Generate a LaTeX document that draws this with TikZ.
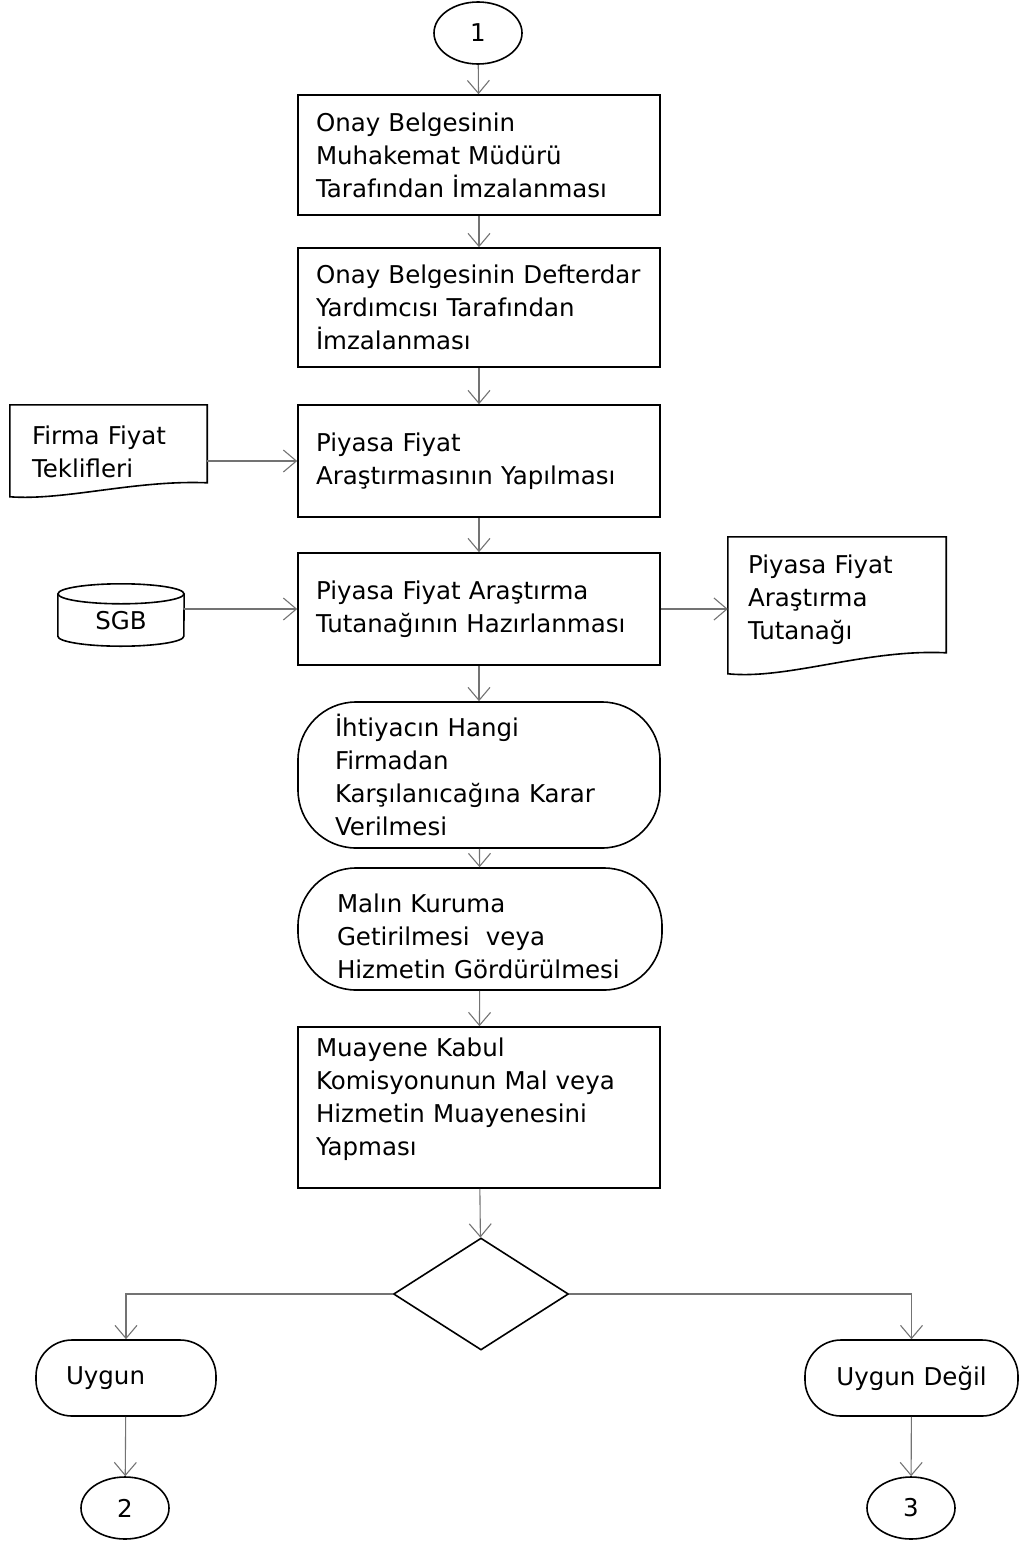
\documentclass[tikz,border=0pt]{standalone}
\usepackage{fontspec}
\setmainfont{DejaVu Sans}
\usetikzlibrary{arrows.meta,shapes.geometric,calc}
\newcommand{\fs}{\fontsize{24.5}{33}\selectfont\hyphenpenalty=10000\exhyphenpenalty=10000}
\begin{document}
\begin{tikzpicture}[x=1pt,y=-1pt,
  outl/.style={draw=black, line width=1.6pt},
  proc/.style={outl, rectangle, minimum width=362pt, text width=326pt, align=left, inner sep=0pt, font=\fs},
  term/.style={proc, rounded corners=58pt},
  docn/.style={rectangle, inner sep=0pt, align=left, font=\fs},
  circ/.style={outl, ellipse, minimum width=88pt, minimum height=62pt, inner sep=0pt, font=\fs},
  conn/.style={draw=black!55, line width=1.1pt, -{Straight Barb[length=13pt,width=22pt]}}
]
\useasboundingbox (0,0) rectangle (1021,1541);

\node[circ] (c1) at (478,33) {1};
\node[proc, minimum height=120pt] (b1) at (479,155) {Onay Belgesinin\\Muhakemat Müdürü\\Tarafından İmzalanması};
\node[proc, minimum height=119pt] (b2) at (479,307.5) {Onay Belgesinin Defterdar\\Yardımcısı Tarafından\\İmzalanması};
\node[proc, minimum height=112pt] (b3) at (479,461) {Piyasa Fiyat\\Araştırmasının Yapılması};
\node[proc, minimum height=112pt] (b4) at (479,609) {Piyasa Fiyat Araştırma\\Tutanağının Hazırlanması};
\node[term, minimum height=146pt, text width=288pt] (s1) at (479,775) {İhtiyacın Hangi\\Firmadan\\Karşılanıcağına Karar\\Verilmesi};
\node[term, minimum width=364pt, minimum height=122pt, text width=286pt, text height=34pt] (s2) at (480,929) {Malın Kuruma\\Getirilmesi\ \ veya\\Hizmetin Gördürülmesi};
\node[proc, minimum height=161pt, text depth=120pt] (b5) at (479,1107.5) {Muayene Kabul\\Komisyonunun Mal veya\\Hizmetin Muayenesini\\Yapması};
\node[outl, diamond, minimum width=175pt, minimum height=112pt, inner sep=0pt] (d) at (481,1294) {};
\node[term, rounded corners=36pt, minimum width=180pt, minimum height=76pt, text width=120pt] (u) at (126,1378) {Uygun};
\node[term, rounded corners=36pt, minimum width=213pt, minimum height=76pt, text width=180pt, align=center] (ud) at (911.5,1378) {Uygun Değil};
\node[circ] (c2) at (125,1508) {2};
\node[circ] (c3) at (911,1508) {3};

% documents
\node[docn, minimum width=197pt, minimum height=94pt, text width=153pt] (f1) at (108.5,452) {Firma Fiyat\\Teklifleri};
\draw[outl] (f1.north west) -- (f1.north east) -- ($(f1.north east)+(0,78)$)
  .. controls +(-72,-3) and +(55,4) .. ($(f1.north west)+(0,92)$) -- cycle;
\node[docn, minimum width=218pt, minimum height=126pt, text width=178pt] (f2) at (837,600) {Piyasa Fiyat\\Araştırma\\Tutanağı};
\draw[outl] (f2.north west) -- (f2.north east) -- ($(f2.north east)+(0,116)$)
  .. controls +(-80,-4) and +(60,6) .. ($(f2.north west)+(0,137)$) -- cycle;

% database
\node[inner sep=0pt, minimum width=126pt, minimum height=62pt] (sgb) at (121,615) {};
\node[font=\fs, inner sep=0pt] (sgbt) at (121,621) {SGB};
\draw[outl] ($(sgb.north)+(0,10)$) ellipse [x radius=63pt, y radius=10pt];
\draw[outl] ($(sgb.north west)+(0,10)$) -- ($(sgb.south west)+(0,-10)$)
  arc[start angle=180, end angle=360, x radius=63pt, y radius=10pt] -- ($(sgb.north east)+(0,10)$);

% connectors
\draw[conn] (c1) -- (b1);
\draw[conn] (b1) -- (b2);
\draw[conn] (b2) -- (b3);
\draw[conn] (b3) -- (b4);
\draw[conn] (b4) -- (s1);
\draw[conn] (s1) -- (s2);
\draw[conn] (s2) -- (b5);
\draw[conn] (b5) -- (d);
\draw[conn] (f1.east |- b3) -- (b3.west);
\draw[conn] (sgb.east |- b4) -- (b4.west);
\draw[conn] (b4.east) -- (b4.east -| f2.west);
\draw[conn] (d.west) -| (u.north);
\draw[conn] (d.east) -| (ud.north);
\draw[conn] (u) -- (c2);
\draw[conn] (ud) -- (c3);
\end{tikzpicture}
\end{document}
